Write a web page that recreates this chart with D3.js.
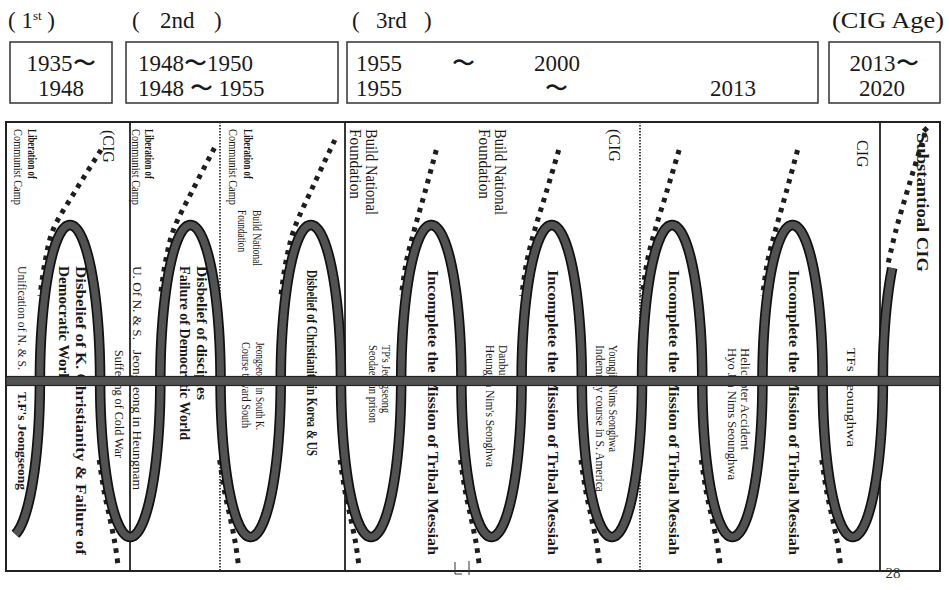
<!DOCTYPE html>
<html><head><meta charset="utf-8">
<script src="https://cdn.jsdelivr.net/npm/d3@7"></script>
<style>body{margin:0;background:#fff}svg{display:block}</style>
</head><body>
<script>
// ---------- data ----------
const eraLabels = ["1", "2nd", "3rd", "(CIG Age)"];
const periodRow1 = [["1935〜"], ["1948〜1950"], ["1955", "〜", "2000"], ["2013〜"]];
const periodRow2 = [["1948"], ["1948 〜 1955"], ["1955", "〜", "2013"], ["2020"]];
const loopIndex = [0, 1, 2, 3, 4, 5, 6];           // seven full turns of the spiral
const turnThemes = [
  ["Disbelief of K. Christianity & Failure of", "Democratic World"],
  ["Disbelief of disciples", "Failure of Democratic World"],
  ["Disbelief of Christianity in Korea & US"],
  ["Incomplete the Mission of Tribal Messiah"],
  ["Incomplete the Mission of Tribal Messiah"],
  ["Incomplete the Mission of Tribal Messiah"],
  ["Incomplete the Mission of Tribal Messiah"]
];
const foundationLabels = ["Liberation of", "Communist Camp", "Build National", "Foundation", "(CIG", "CIG", "Substantioal CIG"];
const eventLabels = [
  "Unification of N. & S.", "T.F's Jeongseong", "Suffering of Cold War",
  "U. Of N. & S.", "Jeongseong in Heungnam",
  "Jeongseong in South K.", "Course toward South",
  "TP's Jeongseong", "Seodaemun prison",
  "Danbury", "Heungjin Nim's Seonghwa",
  "Youngjin Nims Seonghwa", "Indemnity course in S. America",
  "Helicopter Accident", "Hyo Jin Nims Seounghwa",
  "TFs Seounghwa"
];
const pageNumber = "28";

// ---------- setup ----------
const W = 949, H = 590;
const svg = d3.select("body").append("svg").attr("width", W).attr("height", H)
  .style("font-family", "'Liberation Serif', 'Times New Roman', serif");
svg.append("rect").attr("width", W).attr("height", H).attr("fill", "#fff");

const xLoop = d3.scaleLinear().domain([0, 7]).range([70, 913]);
const yWave = d3.scaleLinear().domain([-1, 1]).range([537, 225]);
const frame = {x0: 6, x1: 940, y0: 122, y1: 571};
const ink = "#1a1a1a";

// ---------- header ----------
const hdr = svg.append("g").attr("fill", ink);
const eraT = hdr.append("text").attr("x", 8).attr("y", 28).attr("font-size", 23);
eraT.append("tspan").text("( " + eraLabels[0]);
eraT.append("tspan").attr("font-size", 13).attr("dy", -8).text("st");
eraT.append("tspan").attr("dy", 8).text(" )");
[[132, "("], [160, eraLabels[1]], [214, ")"], [352, "("], [376, eraLabels[2]], [424, ")"]]
  .forEach(([x, s]) => hdr.append("text").attr("x", x).attr("y", 28).attr("font-size", 23).text(s));
hdr.append("text").attr("x", 832).attr("y", 28).attr("font-size", 23)
  .attr("textLength", 112).attr("lengthAdjust", "spacingAndGlyphs").text(eraLabels[3]);

const boxes = [[10, 112], [126, 338], [347, 818], [829, 940]];
boxes.forEach(([a, b]) => hdr.append("rect").attr("x", a).attr("y", 42).attr("width", b - a).attr("height", 61)
  .attr("fill", "none").attr("stroke", "#333").attr("stroke-width", 1.5));

function hText(str, x, y, anchor) {
  hdr.append("text").attr("x", x).attr("y", y).attr("font-size", 23)
    .attr("text-anchor", anchor || "start").text(str);
}
hText(periodRow1[0][0], 61, 71, "middle");
hText(periodRow2[0][0], 61, 96, "middle");
hText(periodRow1[1][0], 138, 71);
hText(periodRow2[1][0], 138, 96);
hText(periodRow1[2][0], 356, 71); hText(periodRow1[2][1], 452, 71); hText(periodRow1[2][2], 534, 71);
hText(periodRow2[2][0], 356, 96); hText(periodRow2[2][1], 545, 96); hText(periodRow2[2][2], 710, 96);
hText(periodRow1[3][0], 884, 71, "middle");
hText(periodRow2[3][0], 882, 96, "middle");

// ---------- frame and dividers ----------
const fr = svg.append("g");
fr.append("rect").attr("x", frame.x0).attr("y", frame.y0).attr("width", frame.x1 - frame.x0)
  .attr("height", frame.y1 - frame.y0).attr("fill", "none").attr("stroke", "#222").attr("stroke-width", 2);
[130, 345, 880].forEach(x => fr.append("line").attr("x1", x).attr("x2", x).attr("y1", frame.y0).attr("y2", frame.y1)
  .attr("stroke", "#222").attr("stroke-width", 1.8));
[220, 640].forEach(x => fr.append("line").attr("x1", x).attr("x2", x).attr("y1", frame.y0).attr("y2", frame.y1)
  .attr("stroke", "#333").attr("stroke-width", 1.8).attr("stroke-dasharray", "1.6 1.4"));

// ---------- rotated texts ----------
const tg = svg.append("g").attr("fill", ink);
function vtext(str, x, y, size, weight, len) {
  const t = tg.append("text").attr("transform", `translate(${x},${y}) rotate(90)`)
    .attr("font-size", size).attr("font-weight", weight || "normal")
    .attr("dominant-baseline", "central").text(str);
  if (len) t.attr("textLength", len).attr("lengthAdjust", "spacingAndGlyphs");
}
// panel 1
vtext(foundationLabels[0], 32, 129, 11.5, "bold", 50);
vtext(foundationLabels[1], 18, 129, 11.5, "normal", 76);
vtext(foundationLabels[4], 108, 130, 16);
vtext(eventLabels[0], 22, 266, 13, "normal", 104);
vtext(eventLabels[1], 22, 392, 13, "bold", 98);
vtext(turnThemes[0][0], 80, 266, 14, "bold", 289);
vtext(turnThemes[0][1], 63, 266, 14, "bold", 120);
vtext(eventLabels[2], 119, 350, 11.5, "normal", 108);
// panel 2
vtext(foundationLabels[0], 149, 129, 11.5, "bold", 50);
vtext(foundationLabels[1], 136, 129, 11.5, "normal", 76);
vtext(eventLabels[3], 137, 266, 13, "normal", 74);
vtext(eventLabels[4], 137, 350, 13, "normal", 140);
vtext(turnThemes[1][0], 201, 266, 14, "bold", 134);
vtext(turnThemes[1][1], 184, 266, 14, "bold", 174);
vtext(foundationLabels[0], 248, 129, 11.5, "bold", 50);
vtext(foundationLabels[1], 233, 129, 11.5, "normal", 76);
vtext(foundationLabels[2], 257, 210, 12, "normal", 56);
vtext(foundationLabels[3], 242, 210, 12, "normal", 42);
vtext(eventLabels[5], 260, 342, 12, "normal", 88);
vtext(eventLabels[6], 246, 342, 12, "normal", 86);
vtext(turnThemes[2][0], 311, 270, 14, "bold", 186);
// panel 3
vtext(foundationLabels[2], 371, 129, 16, "normal", 86);
vtext(foundationLabels[3], 355, 129, 16, "normal", 70);
vtext(eventLabels[7], 386, 345, 12, "normal", 68);
vtext(eventLabels[8], 373, 345, 12, "normal", 78);
vtext(foundationLabels[2], 500, 129, 16, "normal", 86);
vtext(foundationLabels[3], 484, 129, 16, "normal", 70);
vtext(eventLabels[9], 503, 345, 12, "normal", 40);
vtext(eventLabels[10], 490, 345, 12, "normal", 122);
vtext(foundationLabels[4], 614, 129, 16);
vtext(eventLabels[11], 613, 345, 12, "normal", 107);
vtext(eventLabels[12], 600, 345, 12, "normal", 147);
vtext(eventLabels[13], 745, 348, 12, "normal", 102);
vtext(eventLabels[14], 732, 348, 12, "normal", 132);
vtext(foundationLabels[5], 862, 140, 16);
vtext(eventLabels[15], 851, 348, 12, "normal", 99);
[3, 4, 5, 6].forEach(i => vtext(turnThemes[i][0], xLoop(i) + 1, 270, 14, "bold", 285));
vtext(foundationLabels[6], 922, 133, 17, "bold", 139);

// ---------- dotted back-strands ----------
const line = d3.line().curve(d3.curveCatmullRom.alpha(0.5));
const dg = svg.append("g").attr("fill", "none").attr("stroke", "#1e1e1e")
  .attr("stroke-width", 5).attr("stroke-dasharray", "4.5 5.5");
const lead = [31, 24, 24, 5, 7, 7, 5];
const leadY = [150, 148, 140, 150, 150, 150, 150];
loopIndex.forEach(k => {
  const T = xLoop(k), s = lead[k], y0 = leadY[k];
  dg.append("path").attr("d", line([[T + s, y0], [T + s * 0.45 - 8, (y0 + 230) / 2], [T - 17, 230], [T - 25, 262], [T - 30, 296]]));
  const B = xLoop(k + 0.5);
  dg.append("path").attr("d", line([[B - 31, 460], [B - 26, 492], [B - 20, 520], [B - 15, 545], [B - 12, 567]]));
});
{
  const T = xLoop(7);
  dg.append("path").attr("d", line([[T + 12, 133], [T - 3, 182], [T - 17, 230], [T - 25, 264]]));
  svg.append("rect").attr("x", T + 10).attr("y", 127).attr("width", 5).attr("height", 5)
    .attr("transform", `rotate(45 ${T + 12.5} 129.5)`).attr("fill", "#1e1e1e");
}

// ---------- spiral ----------
function spiralPt(p) {
  const m = Math.round(2 * p) / 2;
  const th = 2 * Math.PI * (p - m);
  const u = m + 0.25 * Math.sin(th);
  const v = Number.isInteger(m) ? Math.cos(th) : -Math.cos(th);
  return [xLoop(u), yWave(v)];
}
const pEnd = 7 - Math.acos(yWave.invert(268)) / (2 * Math.PI);
const pts = d3.range(-0.47, pEnd, 0.004).map(spiralPt);
pts.push(spiralPt(pEnd));
const spiral = d3.line();
svg.append("path").attr("d", spiral(pts)).attr("fill", "none").attr("stroke", "#111")
  .attr("stroke-width", 10.5).attr("stroke-linejoin", "round");
svg.append("path").attr("d", spiral(pts)).attr("fill", "none").attr("stroke", "#525252")
  .attr("stroke-width", 7).attr("stroke-linejoin", "round");

// ---------- horizontal bar ----------
const barY = yWave(0);
svg.append("rect").attr("x", frame.x0).attr("y", barY - 4.5).attr("width", frame.x1 - frame.x0).attr("height", 9)
  .attr("fill", "#525252").attr("stroke", "#222").attr("stroke-width", 1.2);

// ---------- footer marks ----------
svg.append("text").attr("x", 893).attr("y", 578).attr("font-size", 15).attr("text-anchor", "middle")
  .attr("fill", "#333").text(pageNumber);
svg.append("path").attr("d", "M455,562V574H462M469,561V575").attr("fill", "none").attr("stroke", "#333").attr("stroke-width", 1);
</script>
</body></html>
